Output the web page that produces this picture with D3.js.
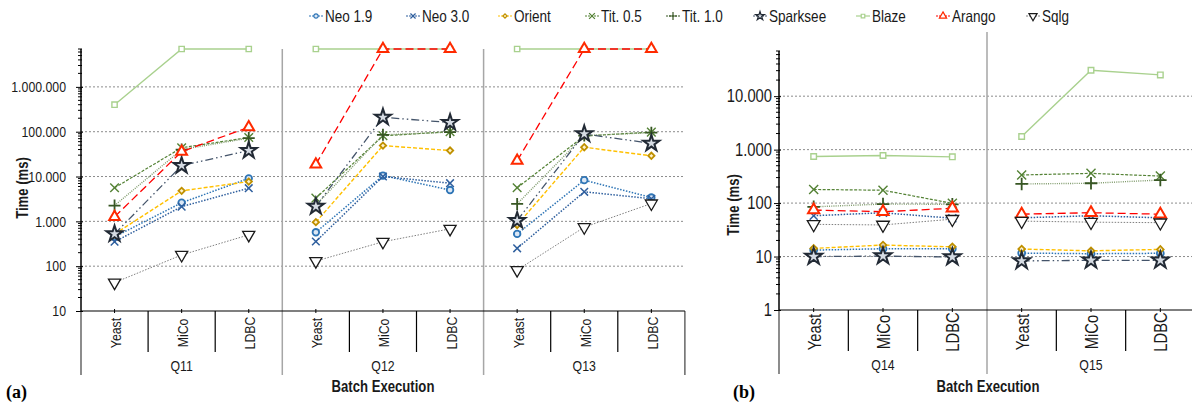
<!DOCTYPE html>
<html lang="en">
<head>
<meta charset="UTF-8">
<title>Batch Execution</title>
<style>
  body { margin: 0; background: #fff; }
  svg { display: block; }
</style>
</head>
<body>
<div class="graph"></div>
<script src="https://d3js.org/d3.v7.min.js"></script>
<script>
    var w = 1192, h = 405;
    var TIMEOUT = 7000000;

    var categories = ["Yeast", "MiCo", "LDBC"];
    var groupsA = ["Q11", "Q12", "Q13"];
    var groupsB = ["Q14", "Q15"];
    var seriesNames = ["Neo 1.9", "Neo 3.0", "Orient", "Tit. 0.5", "Tit. 1.0", "Sparksee", "Blaze", "Arango", "Sqlg"];

    // chart (a): one row per query, values for Yeast, MiCo, LDBC
    var neo19A    = [[450, 2600, 9100], [570, 10500, 5000], [525, 8300, 3400]];
    var neo30A    = [[350, 2130, 5500], [355, 10000, 7100], [250, 4560, 3200]];
    var orientA   = [[520, 4800, 7700], [960, 49000, 38000], [830, 45000, 29000]];
    var tit05A    = [[5600, 44000, 74000], [3300, 81000, 100000], [5600, 80000, 98000]];
    var tit10A    = [[2250, 40000, 72000], [2300, 85000, 98000], [2450, 82000, 95000]];
    var sparkseeA = [[525, 17500, 38000], [2150, 210000, 160000], [1040, 89000, 55000]];
    var blazeA    = [[400000, TIMEOUT, TIMEOUT], [TIMEOUT, TIMEOUT, TIMEOUT], [TIMEOUT, TIMEOUT, TIMEOUT]];
    var arangoA   = [[1260, 36000, 126000], [18700, TIMEOUT, TIMEOUT], [22600, TIMEOUT, TIMEOUT]];
    var sqlgA     = [[43, 178, 500], [130, 350, 680], [82, 740, 2500]];

    // chart (b)
    var neo19B    = [[13.2, 14, 14], [11.6, 11.3, 11.5]];
    var neo30B    = [[58, 66, 52], [53, 58, 53]];
    var orientB   = [[14.2, 16.4, 15.2], [13.8, 12.8, 13.6]];
    var tit05B    = [[180, 174, 99], [336, 360, 320]];
    var tit10B    = [[85, 96, 95], [228, 235, 270]];
    var sparkseeB = [[10, 10.2, 9.8], [8.3, 8.5, 8.5]];
    var blazeB    = [[745, 775, 733], [1760, 30500, 25000]];
    var arangoB   = [[74, 69, 80], [62, 66, 62]];
    var sqlgB     = [[40, 39, 50], [46, 44, 43]];

    var ticksA = [10, 100, 1000, 10000, 100000, 1000000];
    var ticksB = [1, 10, 100, 1000, 10000];

    var sans = "'Liberation Sans',Arial,sans-serif";
    // no narrow font installed: squeeze text horizontally
    function squeeze(sel, k) {
        sel.each(function() {
            var n = this.getComputedTextLength();
            d3.select(this).attr("textLength", n * (k || 0.82)).attr("lengthAdjust", "spacingAndGlyphs");
        });
    }

    function xPath(r) { return "M" + (-r) + "," + (-r) + "L" + r + "," + r + "M" + (-r) + "," + r + "L" + r + "," + (-r); }
    function plusPath(r) { return "M" + (-r) + ",0L" + r + ",0M0," + (-r) + "L0," + r; }
    function sym(type, size) { return d3.symbol().type(type).size(size)(); }

    // styles per series, same order as seriesNames
    var styles = [
        {color: "#2e75b6", dash: "1.5,1.5", width: 1.5, marker: function(k){ return sym(d3.symbolCircle, 34*k); }, fill: "#dbe7f5", mstroke: "#2e75b6", mw: 1.8},
        {color: "#2f5f9e", dash: "1.5,1.5", width: 1.5, marker: function(k){ return xPath(3.8*Math.sqrt(k)); }, fill: "none", mstroke: "#2f5f9e", mw: 1.5},
        {color: "#ffc000", dash: "4,2", width: 1.4, marker: function(k){ return sym(d3.symbolSquare, 20*k); }, rot: 45, fill: "#fff2cc", mstroke: "#bf9000", mw: 1.8},
        {color: "#548235", dash: "3,1.5", width: 1.2, marker: function(k){ return xPath(4.3*Math.sqrt(k)); }, fill: "none", mstroke: "#548235", mw: 1.4},
        {color: "#7f9a6b", dash: "1,1.2", width: 1.4, marker: function(k){ return plusPath(6*Math.sqrt(k)); }, fill: "none", mstroke: "#375623", mw: 1.8, lcolor: "#375623"},
        {color: "#44546a", dash: "8,3,1.5,3,1.5,3", width: 1.3, marker: function(k){ return sym(d3.symbolStar, 80*k); }, fill: "#d6dce4", mstroke: "#222a35", mw: 2, lk: 0.3},
        {color: "#a9d18e", dash: null, width: 1.4, marker: function(k){ return sym(d3.symbolSquare, 28*k); }, fill: "#fff", mstroke: "#a9d18e", mw: 1.4},
        {color: "#ff0000", dash: "8,4", width: 1.3, marker: function(k){ return sym(d3.symbolTriangle, 50*k); }, fill: "#fff", mstroke: "#ff2a00", mw: 2},
        {color: "#808080", dash: "1.5,1.5", width: 1, marker: function(k){ return sym(d3.symbolTriangle, 64*k); }, rot: 180, fill: "#fff", mstroke: "#1a1a1a", mw: 1.3}
    ];
    // legend marker centres
    var legendX = [316, 413, 505, 592, 673, 760, 863, 943, 1033];

    var svg = d3.select(".graph").append("svg").attr("width", w).attr("height", h);

    function drawChart(cfg) {
        var g = svg.append("g");
        var xEnd = cfg.x0 + cfg.groups.length * cfg.gw;
        var xg = d3.scaleBand().domain(cfg.groups).range([cfg.x0, xEnd]);
        var xc = d3.scaleBand().domain(categories).range([0, xg.bandwidth()]);
        var cx = function(grp, c) { return xg(grp) + xc(c) + xc.bandwidth() / 2; };
        var y = d3.scaleLog().domain(cfg.domain).range([cfg.yBottom, cfg.yTop]);

        // gridlines
        g.selectAll(".grid").data(cfg.ticks.slice(1)).enter().append("line")
            .attr("x1", cfg.x0).attr("x2", Math.min(xEnd, w))
            .attr("y1", function(d){ return y(d); }).attr("y2", function(d){ return y(d); })
            .attr("stroke", "#8c8c8c").attr("stroke-dasharray", "2,2").attr("stroke-width", 1);

        // group dividers
        var bounds = cfg.groups.map(function(q){ return xg(q); }).slice(1);
        g.selectAll(".div").data(bounds).enter().append("line")
            .attr("x1", function(d){ return d; }).attr("x2", function(d){ return d; })
            .attr("y1", cfg.divTop).attr("y2", cfg.yBottom + 64)
            .attr("stroke", "#a6a6a6").attr("stroke-width", 1.5);
        [cfg.x0, xEnd].forEach(function(d){
            g.append("line").attr("x1", d).attr("x2", d).attr("y1", cfg.yBottom).attr("y2", cfg.yBottom + 64)
                .attr("stroke", "#404040").attr("stroke-width", 1.2);
        });

        // category separators and labels
        cfg.groups.forEach(function(q){
            categories.slice(1).forEach(function(c){
                var xx = xg(q) + xc(c);
                g.append("line").attr("x1", xx).attr("x2", xx).attr("y1", cfg.yBottom).attr("y2", cfg.yBottom + 41)
                    .attr("stroke", "#000").attr("stroke-width", 1.2);
            });
            categories.forEach(function(c){
                g.append("line").attr("x1", cx(q, c)).attr("x2", cx(q, c)).attr("y1", cfg.yBottom - 2).attr("y2", cfg.yBottom + 2)
                    .attr("stroke", "#000");
                g.append("text")
                    .attr("transform", "translate(" + (cx(q, c) + 1) + "," + (cfg.yBottom + 22) + ") rotate(-90)")
                    .attr("text-anchor", "middle").attr("dominant-baseline", "central")
                    .style("font-family", sans).style("font-size", cfg.catSize + "px").attr("fill", "#1a1a1a")
                    .text(c).call(squeeze);
            });
            g.append("text").attr("x", xg(q) + xg.bandwidth() / 2).attr("y", cfg.yBottom + 60)
                .attr("text-anchor", "middle").style("font-family", sans).style("font-size", "15px").attr("fill", "#1a1a1a")
                .text(q).call(squeeze);
        });

        // x axis line
        g.append("line").attr("x1", cfg.x0).attr("x2", Math.min(xEnd, w)).attr("y1", cfg.yBottom).attr("y2", cfg.yBottom)
            .attr("stroke", "#000").attr("stroke-width", 1.2);

        // y axis
        var fmt = function(v){ return d3.format(",")(v).replace(/,/g, "."); };
        var ax = g.append("g").attr("transform", "translate(" + cfg.x0 + ",0)")
            .call(d3.axisLeft(y).tickValues(cfg.ticks).tickFormat(fmt).tickSizeOuter(0).tickSizeInner(5).tickPadding(cfg.pad));
        ax.select(".domain").attr("stroke", "#000").attr("stroke-width", 1.5)
            .attr("d", "M0," + cfg.yTop + "V" + cfg.yBottom);
        ax.selectAll(".tick text").style("font-family", sans).style("font-size", cfg.tickSize + "px").attr("fill", "#1a1a1a")
            .call(squeeze);
        ax.selectAll(".tick line").attr("x2", -5).attr("x1", 2).attr("stroke", "#000");
        var minors = [];
        var lo = Math.log10(cfg.domain[0]), hi = Math.log10(cfg.domain[1]);
        for (var p = Math.floor(lo); p <= hi; p++) {
            for (var m = 2; m <= 9; m++) {
                var v = m * Math.pow(10, p);
                if (v > cfg.domain[0] && v <= cfg.domain[1]) minors.push(v);
            }
        }
        ax.selectAll(".minor").data(minors).enter().append("line")
            .attr("x1", -3).attr("x2", 1)
            .attr("y1", function(d){ return y(d); }).attr("y2", function(d){ return y(d); })
            .attr("stroke", "#000").attr("stroke-width", 1);

        // y title
        g.append("text").attr("transform", "translate(" + cfg.titleX + "," + cfg.titleY + ") rotate(-90)")
            .attr("text-anchor", "middle").attr("dominant-baseline", "central")
            .style("font-family", sans).style("font-size", "16px").style("font-weight", "bold").attr("fill", "#1a1a1a")
            .text("Time (ms)").call(squeeze);

        // x title and panel tag
        g.append("text").attr("x", cfg.batchX).attr("y", 392).attr("text-anchor", "middle")
            .style("font-family", sans).style("font-size", "16px").style("font-weight", "bold").attr("fill", "#1a1a1a")
            .text("Batch Execution").call(squeeze);
        g.append("text").attr("x", cfg.tagX).attr("y", 398)
            .style("font-family", "'Liberation Serif','Times New Roman',serif").style("font-size", "18px").style("font-weight", "bold")
            .text(cfg.tag);

        // series
        var line = d3.line().x(function(d){ return d.x; }).y(function(d){ return d.y; });
        cfg.series.forEach(function(vals, si) {
            var st = styles[si];
            var sg = g.append("g");
            vals.forEach(function(row, gi) {
                var pts = row.map(function(v, ci) {
                    return {x: cx(cfg.groups[gi], categories[ci]), y: y(v)};
                });
                sg.append("path").attr("d", line(pts)).attr("fill", "none")
                    .attr("stroke", st.color).attr("stroke-width", st.width)
                    .attr("stroke-dasharray", st.dash);
                sg.selectAll(null).data(pts).enter().append("path")
                    .attr("d", st.marker(cfg.mk))
                    .attr("transform", function(d){ return "translate(" + d.x + "," + d.y + ")" + (st.rot ? " rotate(" + st.rot + ")" : ""); })
                    .attr("fill", st.fill).attr("stroke", st.mstroke).attr("stroke-width", st.mw);
            });
        });
    }

    drawChart({
        x0: 81, gw: 201.3, yTop: 49, yBottom: 311, divTop: 49, domain: [10, TIMEOUT], ticks: ticksA, pad: 10, mk: 1,
        groups: groupsA, tickSize: 15, catSize: 15, titleX: 22, titleY: 188, batchX: 383, tagX: 6, tag: "(a)",
        series: [neo19A, neo30A, orientA, tit05A, tit10A, sparkseeA, blazeA, arangoA, sqlgA]
    });
    drawChart({
        x0: 779, gw: 208, yTop: 51, yBottom: 310, divTop: 32, domain: [1, 70000], ticks: ticksB, pad: 2, mk: 1.1,
        groups: groupsB, tickSize: 18, catSize: 18, titleX: 733, titleY: 205, batchX: 988, tagX: 733, tag: "(b)",
        series: [neo19B, neo30B, orientB, tit05B, tit10B, sparkseeB, blazeB, arangoB, sqlgB]
    });

    // legend
    seriesNames.forEach(function(name, i) {
        var st = styles[i];
        var lg = svg.append("g").attr("transform", "translate(" + legendX[i] + ",16)");
        lg.append("line").attr("x1", -7).attr("x2", 7).attr("stroke", st.lcolor || st.color).attr("stroke-width", 1.2)
            .attr("stroke-dasharray", st.dash ? "2,1" : null);
        lg.append("path").attr("d", st.marker(st.lk || 0.45))
            .attr("transform", st.rot ? "rotate(" + st.rot + ")" : null)
            .attr("fill", st.fill).attr("stroke", st.mstroke).attr("stroke-width", 1.2);
        lg.append("text").attr("x", 9).attr("dominant-baseline", "central")
            .style("font-family", sans).style("font-size", "16.5px").attr("fill", "#1a1a1a").text(name).call(squeeze);
    });
</script>
</body>
</html>
